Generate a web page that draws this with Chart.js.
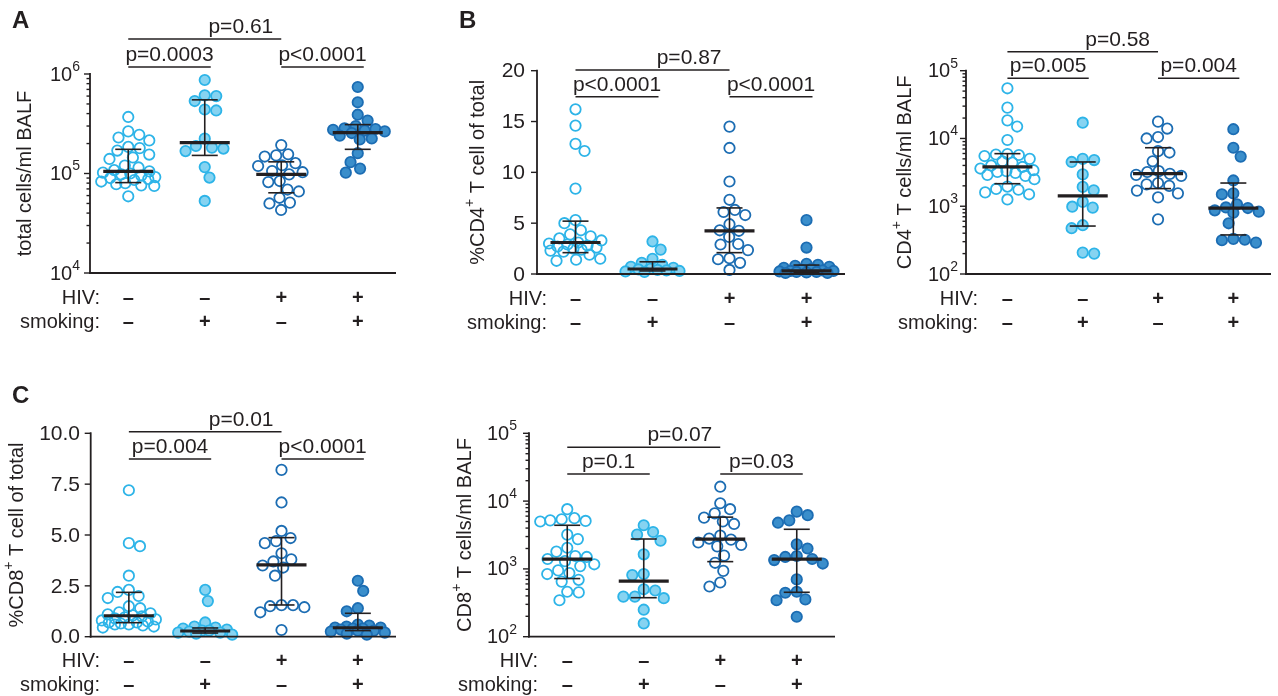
<!DOCTYPE html>
<html>
<head>
<meta charset="utf-8">
<script src="https://cdn.jsdelivr.net/npm/chart.js@4.4.1/dist/chart.umd.min.js"></script>
<style>
  html, body { margin: 0; padding: 0; background: #fff; }
  #wrap { position: relative; width: 1278px; height: 696px; overflow: hidden; }
  #wrap canvas { position: absolute; left: 0; top: 0; }
</style>
</head>
<body>
<div id="wrap"></div>
<script>
// groups: HIV-/smoking-, HIV-/smoking+, HIV+/smoking-, HIV+/smoking+
var hivSigns = ['\u2013', '\u2013', '+', '+'];
var smokingSigns = ['\u2013', '+', '\u2013', '+'];

// A: total cells/ml BALF
var totalCellsG1 = [3.7e5, 2.65e5, 2.45e5, 2.3e5, 2.15e5, 1.85e5, 1.8e5, 1.7e5, 1.55e5, 1.45e5, 1.4e5, 1.2e5, 1.15e5, 1.08e5, 1.05e5, 1.02e5, 1.0e5, 9.8e4, 9.5e4, 9.2e4, 9.0e4, 8.8e4, 8.6e4, 8.3e4, 8.0e4, 7.8e4, 7.6e4, 7.5e4, 5.9e4];
var totalCellsG2 = [8.7e5, 6.1e5, 6.0e5, 5.35e5, 4.4e5, 4.3e5, 2.24e5, 1.89e5, 1.82e5, 1.78e5, 1.68e5, 1.16e5, 9.1e4, 5.3e4];
var totalCellsG3 = [1.93e5, 1.56e5, 1.52e5, 1.48e5, 1.27e5, 1.21e5, 1.19e5, 1.06e5, 1.03e5, 9.8e4, 8.4e4, 8.2e4, 6.9e4, 6.6e4, 5.7e4, 5.1e4, 5.0e4, 4.3e4];
var totalCellsG4 = [7.4e5, 5.2e5, 3.9e5, 3.4e5, 3.0e5, 2.85e5, 2.8e5, 2.75e5, 2.7e5, 2.65e5, 2.55e5, 2.4e5, 2.25e5, 2.2e5, 1.6e5, 1.3e5, 1.12e5, 1.02e5];
var totalCellsMedian = [1.05e5, 2.04e5, 9.8e4, 2.57e5];
var totalCellsQ1 = [8.1e4, 1.52e5, 6.4e4, 1.75e5];
var totalCellsQ3 = [1.75e5, 5.5e5, 1.31e5, 3.1e5];
var totalCellsP = ['p=0.0003', 'p<0.0001', 'p=0.61'];

// B: %CD4+ T cell of total
var pctCd4G1 = [16.2, 14.6, 12.8, 12.1, 8.4, 5.3, 5.0, 4.3, 3.9, 3.7, 3.5, 3.3, 3.1, 3.0, 2.9, 2.8, 2.7, 2.6, 2.5, 2.4, 2.3, 2.2, 1.9, 1.5, 1.4, 1.3];
var pctCd4G2 = [3.2, 2.4, 1.5, 1.1, 0.9, 0.7, 0.6, 0.5, 0.45, 0.4, 0.35, 0.3, 0.25, 0.2];
var pctCd4G3 = [14.5, 12.4, 9.1, 7.3, 6.3, 6.1, 5.8, 4.9, 4.3, 4.25, 3.65, 2.95, 2.9, 2.35, 1.55, 1.45, 1.1, 0.4];
var pctCd4G4 = [5.3, 2.6, 1.0, 0.9, 0.8, 0.7, 0.6, 0.5, 0.4, 0.35, 0.3, 0.3, 0.25, 0.2, 0.2, 0.15, 0.1, 0.1];
var pctCd4Median = [3.1, 0.49, 4.25, 0.3];
var pctCd4Q1 = [2.1, 0.3, 2.1, 0.12];
var pctCd4Q3 = [5.2, 1.2, 6.5, 0.88];
var pctCd4Ticks = [0, 5, 10, 15, 20];
var pctCd4P = ['p<0.0001', 'p<0.0001', 'p=0.87'];

// B: CD4+ T cells/ml BALF
var cd4CountG1 = [5.5e4, 2.85e4, 1.85e4, 1.5e4, 9.5e3, 5.9e3, 5.8e3, 5.7e3, 5.5e3, 5.0e3, 4.6e3, 4.4e3, 4.0e3, 3.8e3, 3.6e3, 3.4e3, 3.3e3, 3.2e3, 3.1e3, 2.9e3, 2.8e3, 2.5e3, 1.95e3, 1.8e3, 1.75e3, 1.6e3, 1.5e3, 1.26e3];
var cd4CountG2 = [1.71e4, 5.0e3, 4.8e3, 4.5e3, 2.95e3, 1.93e3, 1.72e3, 1.16e3, 985, 955, 525, 474, 207, 200];
var cd4CountG3 = [1.77e4, 1.4e4, 1.05e4, 1.0e4, 6.5e3, 6.2e3, 4.6e3, 3.3e3, 3.2e3, 3.0e3, 2.9e3, 2.8e3, 2.2e3, 2.1e3, 2.0e3, 1.7e3, 1.55e3, 1.35e3, 640];
var cd4CountG4 = [1.37e4, 7.3e3, 5.4e3, 2.4e3, 1.55e3, 1.5e3, 1.07e3, 960, 940, 870, 830, 800, 560, 330, 320, 315, 290];
var cd4CountMedian = [3.8e3, 1.42e3, 3.02e3, 940];
var cd4CountQ1 = [2.15e3, 510, 1.82e3, 377];
var cd4CountQ3 = [5.97e3, 4.5e3, 7.3e3, 2.2e3];
var cd4CountP = ['p=0.005', 'p=0.004', 'p=0.58'];

// C: %CD8+ T cell of total
var pctCd8G1 = [7.2, 4.6, 4.45, 3.0, 2.3, 2.2, 2.0, 1.9, 1.5, 1.4, 1.2, 1.15, 1.1, 1.05, 1.0, 0.95, 0.9, 0.85, 0.8, 0.75, 0.7, 0.7, 0.65, 0.6, 0.6, 0.55, 0.5, 0.45];
var pctCd8G2 = [2.3, 1.75, 0.7, 0.5, 0.45, 0.4, 0.35, 0.3, 0.3, 0.25, 0.2, 0.2, 0.15, 0.1];
var pctCd8G3 = [8.2, 6.6, 5.2, 4.85, 4.7, 4.6, 4.1, 3.8, 3.7, 3.5, 3.4, 3.0, 1.55, 1.55, 1.5, 1.45, 1.2, 0.33];
var pctCd8G4 = [2.75, 2.25, 1.4, 1.25, 0.6, 0.55, 0.5, 0.45, 0.45, 0.4, 0.4, 0.35, 0.3, 0.3, 0.25, 0.2, 0.15, 0.1];
var pctCd8Median = [1.03, 0.28, 3.53, 0.44];
var pctCd8Q1 = [0.69, 0.18, 1.56, 0.3];
var pctCd8Q3 = [2.18, 0.43, 4.87, 1.15];
var pctCd8Ticks = [0, 2.5, 5, 7.5, 10];
var pctCd8P = ['p=0.004', 'p<0.0001', 'p=0.01'];

// C: CD8+ T cells/ml BALF
var cd8CountG1 = [7.6e3, 5.6e3, 5.4e3, 5.2e3, 5.1e3, 5.0e3, 3.2e3, 2.75e3, 2.05e3, 1.8e3, 1.55e3, 1.5e3, 1.4e3, 1.3e3, 1.17e3, 1.1e3, 950, 870, 840, 690, 650, 460, 450, 345];
var cd8CountG2 = [4.4e3, 3.5e3, 3.2e3, 2.6e3, 1.64e3, 840, 810, 500, 480, 390, 390, 370, 250, 157];
var cd8CountG3 = [1.63e4, 9.3e3, 7.6e3, 6.6e3, 5.7e3, 5.0e3, 4.6e3, 3.1e3, 2.8e3, 2.7e3, 2.45e3, 2.25e3, 2.15e3, 1.57e3, 1.23e3, 935, 630, 550];
var cd8CountG4 = [7.0e3, 6.2e3, 5.2e3, 4.8e3, 2.3e3, 2.0e3, 1.55e3, 1.5e3, 1.4e3, 1.35e3, 1.2e3, 700, 460, 445, 355, 345, 197];
var cd8CountMedian = [1.39e3, 660, 2.74e3, 1.39e3];
var cd8CountQ1 = [720, 376, 1.28e3, 452];
var cd8CountQ3 = [4.4e3, 2.76e3, 5.8e3, 3.84e3];
var cd8CountP = ['p=0.1', 'p=0.03', 'p=0.07'];

var FONT = '"Liberation Sans", Arial, Helvetica, sans-serif';
var INK = '#231f20';
var lightBlue = '#2db4e8';
var lightFill = '#86d3f1';
var darkBlue = '#1c6db3';
var darkFill = '#3a8ecb';
var borderColors = [lightBlue, lightBlue, darkBlue, darkBlue];
var fillColors = ['rgba(0,0,0,0)', lightFill, 'rgba(0,0,0,0)', darkFill];

var panels = [
  { letter: 'A', letterX: 12, letterY: 28, values: [totalCellsG1, totalCellsG2, totalCellsG3, totalCellsG4],
    median: totalCellsMedian, q1: totalCellsQ1, q3: totalCellsQ3, pvals: totalCellsP,
    log: true, min: 1e4, max: 1e6, xMin: 0.5, xMax: 4.5,
    title: [['total cells/ml BALF', 0]], titleX: 25,
    left: 90, right: 396, top: 74, bottom: 273, tickRight: 80, rowLabelX: 100, lowerY: -7, upperY: -35 },
  { letter: 'B', letterX: 459, letterY: 28, values: [pctCd4G1, pctCd4G2, pctCd4G3, pctCd4G4],
    median: pctCd4Median, q1: pctCd4Q1, q3: pctCd4Q3, pvals: pctCd4P,
    log: false, min: 0, max: 20, ticks: pctCd4Ticks, decimals: 0, xMin: 0.5, xMax: 4.5,
    title: [['%CD4', 0], ['+', 1], [' T cell of total', 0]], titleX: 478,
    left: 537, right: 845, top: 70.7, bottom: 274, tickRight: 525, rowLabelX: 547, lowerY: 26, upperY: -0.7 },
  { letter: '', values: [cd4CountG1, cd4CountG2, cd4CountG3, cd4CountG4],
    median: cd4CountMedian, q1: cd4CountQ1, q3: cd4CountQ3, pvals: cd4CountP,
    log: true, min: 1e2, max: 1e5, xMin: 0.45, xMax: 4.5,
    title: [['CD4', 0], ['+', 1], [' T cells/ml BALF', 0]], titleX: 905,
    left: 966, right: 1276, top: 70.7, bottom: 274, tickRight: 958, rowLabelX: 978, lowerY: 7.6, upperY: -19 },
  { letter: 'C', letterX: 12, letterY: 403, values: [pctCd8G1, pctCd8G2, pctCd8G3, pctCd8G4],
    median: pctCd8Median, q1: pctCd8Q1, q3: pctCd8Q3, pvals: pctCd8P,
    log: false, min: 0, max: 10, ticks: pctCd8Ticks, decimals: 1, xMin: 0.5, xMax: 4.5,
    title: [['%CD8', 0], ['+', 1], [' T cell of total', 0]], titleX: 17,
    left: 90.7, right: 396, top: 433.3, bottom: 636.7, tickRight: 80, rowLabelX: 100, lowerY: 25.7, upperY: -1.6 },
  { letter: '', values: [cd8CountG1, cd8CountG2, cd8CountG3, cd8CountG4],
    median: cd8CountMedian, q1: cd8CountQ1, q3: cd8CountQ3, pvals: cd8CountP,
    log: true, min: 1e2, max: 1e5, xMin: 0.5, xMax: 4.5,
    title: [['CD8', 0], ['+', 1], [' T cells/ml BALF', 0]], titleX: 465,
    left: 529, right: 835, top: 433.3, bottom: 636.7, tickRight: 517, rowLabelX: 538, lowerY: 40.7, upperY: 14 }
];

// text with superscript parts: [text, isSup]
function drawRich(ctx, parts, x, y, align, size) {
  var supSize = Math.round(size * 0.7);
  var total = 0;
  parts.forEach(function(p) {
    ctx.font = (p[1] ? supSize : size) + 'px ' + FONT;
    total += ctx.measureText(p[0]).width;
  });
  var cx = align === 'right' ? x - total : (align === 'center' ? x - total / 2 : x);
  ctx.textAlign = 'left';
  ctx.textBaseline = 'middle';
  parts.forEach(function(p) {
    ctx.font = (p[1] ? supSize : size) + 'px ' + FONT;
    ctx.fillText(p[0], cx, p[1] ? y - size * 0.4 : y);
    cx += ctx.measureText(p[0]).width;
  });
}

function line(ctx, x1, y1, x2, y2) {
  ctx.beginPath();
  ctx.moveTo(x1, y1);
  ctx.lineTo(x2, y2);
  ctx.stroke();
}

function drawPanel(chart, p) {
  var ctx = chart.ctx;
  var xs = chart.scales.x;
  var ys = chart.scales.y;
  var area = chart.chartArea;
  var centers = [1, 2, 3, 4].map(function(g) { return xs.getPixelForValue(g); });
  ctx.save();
  ctx.strokeStyle = INK;
  ctx.fillStyle = INK;

  // median with interquartile range
  for (var g = 0; g < 4; g++) {
    var c = centers[g];
    var yq1 = ys.getPixelForValue(p.q1[g]);
    var yq3 = ys.getPixelForValue(p.q3[g]);
    ctx.lineWidth = 1.6;
    line(ctx, c, yq1, c, yq3);
    line(ctx, c - 13, yq1, c + 13, yq1);
    line(ctx, c - 13, yq3, c + 13, yq3);
    ctx.lineWidth = 3.2;
    var ym = ys.getPixelForValue(p.median[g]);
    line(ctx, c - 25, ym, c + 25, ym);
  }

  // axes
  ctx.lineWidth = 1.8;
  line(ctx, area.left, area.top - 1, area.left, area.bottom + 0.9);
  line(ctx, area.left - 0.9, area.bottom, area.right, area.bottom);
  ctx.lineWidth = 1.4;
  if (p.log) {
    var e0 = Math.round(Math.log10(p.min));
    var e1 = Math.round(Math.log10(p.max));
    for (var e = e0; e <= e1; e++) {
      var yv = ys.getPixelForValue(Math.pow(10, e));
      line(ctx, area.left - 6, yv, area.left, yv);
      drawRich(ctx, [['10', 0], [String(e), 1]], p.tickRight, yv + 1, 'right', 20);
      if (e < e1) {
        for (var k = 2; k <= 9; k++) {
          var ym2 = ys.getPixelForValue(k * Math.pow(10, e));
          line(ctx, area.left - 3.5, ym2, area.left, ym2);
        }
      }
    }
  } else {
    p.ticks.forEach(function(t) {
      var yt = ys.getPixelForValue(t);
      line(ctx, area.left - 6, yt, area.left, yt);
      drawRich(ctx, [[t.toFixed(p.decimals), 0]], p.tickRight, yt + 1, 'right', 21);
    });
  }

  // y title
  ctx.save();
  ctx.translate(p.titleX, (area.top + area.bottom) / 2);
  ctx.rotate(-Math.PI / 2);
  drawRich(ctx, p.title, 0, 0, 'center', 20);
  ctx.restore();

  // group rows under the axis
  drawRich(ctx, [['HIV:', 0]], p.rowLabelX, area.bottom + 25, 'right', 20);
  drawRich(ctx, [['smoking:', 0]], p.rowLabelX, area.bottom + 49, 'right', 20);
  ctx.font = 'bold 20px ' + FONT;
  ctx.textAlign = 'center';
  ctx.textBaseline = 'middle';
  for (var h = 0; h < 4; h++) {
    ctx.fillText(hivSigns[h], centers[h], area.bottom + 25);
    ctx.fillText(smokingSigns[h], centers[h], area.bottom + 49);
  }

  // significance brackets: 1 vs 2, 3 vs 4, 1 vs 3
  var pairs = [[0, 1, true], [2, 3, true], [0, 2, false]];
  ctx.lineWidth = 1.5;
  pairs.forEach(function(pr, i) {
    var x1 = centers[pr[0]];
    var x2 = centers[pr[1]] + (pr[2] ? 6 : 0);
    var yb = area.top + (pr[2] ? p.lowerY : p.upperY);
    line(ctx, x1, yb, x2, yb);
    ctx.font = '21px ' + FONT;
    ctx.textBaseline = 'alphabetic';
    if (pr[2]) {
      ctx.textAlign = 'center';
      ctx.fillText(p.pvals[i], (x1 + x2) / 2, yb - 6);
    } else {
      ctx.textAlign = 'right';
      ctx.fillText(p.pvals[i], x2 - 8, yb - 6);
    }
  });

  if (p.letter) {
    ctx.font = 'bold 24px ' + FONT;
    ctx.textAlign = 'left';
    ctx.textBaseline = 'alphabetic';
    ctx.fillText(p.letter, p.letterX, p.letterY);
  }
  ctx.restore();
}

// spread the dots of each group sideways so they do not pile up
function swarm(chart, p) {
  var xs = chart.scales.x;
  var ys = chart.scales.y;
  var minDist = 11.5;
  var maxSpread = 27;
  chart.data.datasets.forEach(function(ds, g) {
    var cPx = xs.getPixelForValue(g + 1);
    var pts = p.values[g].map(function(v) { return { v: v, py: ys.getPixelForValue(v), dx: 0 }; });
    var order = pts.slice().sort(function(a, b) { return a.py - b.py; });
    var placed = [];
    var side = 1;
    order.forEach(function(pt) {
      var near = placed.filter(function(q) { return Math.abs(q.py - pt.py) < minDist; });
      var clearance = function(x) {
        var m = Infinity;
        near.forEach(function(q) {
          var d = Math.hypot(q.dx - x, q.py - pt.py);
          if (d < m) m = d;
        });
        return m;
      };
      var cands = [0];
      near.forEach(function(q) {
        var w = Math.sqrt(minDist * minDist - (q.py - pt.py) * (q.py - pt.py));
        cands.push(q.dx + w + 0.01, q.dx - w - 0.01);
      });
      var free = cands.filter(function(x) { return Math.abs(x) <= maxSpread && clearance(x) >= minDist - 0.02; });
      var best = 0;
      if (free.length) {
        free.sort(function(a, b) {
          var d = Math.abs(a) - Math.abs(b);
          if (Math.abs(d) > 0.5) return d;
          return side * b - side * a;
        });
        best = free[0];
      } else {
        var bc = -1;
        for (var x = -maxSpread; x <= maxSpread; x += 1) {
          var cl = clearance(x);
          if (cl > bc + 0.01) { bc = cl; best = x; }
        }
      }
      if (Math.abs(best) > 0.5) side = best > 0 ? -1 : 1;
      pt.dx = best;
      placed.push(pt);
    });
    ds.data = pts.map(function(pt) { return { x: xs.getValueForPixel(cPx + pt.dx), y: pt.v }; });
  });
  chart.update('none');
}

var wrap = document.getElementById('wrap');

panels.forEach(function(p) {
  var canvas = document.createElement('canvas');
  canvas.width = 1278;
  canvas.height = 696;
  wrap.appendChild(canvas);

  var datasets = [];
  for (var g = 0; g < 4; g++) {
    datasets.push({
      data: p.values[g].map(function(v) { return { x: g + 1, y: v }; }),
      pointRadius: 5.2,
      borderWidth: 1.8,
      borderColor: borderColors[g],
      backgroundColor: fillColors[g],
      clip: false
    });
  }

  var chart = new Chart(canvas.getContext('2d'), {
    type: 'scatter',
    data: { datasets: datasets },
    options: {
      responsive: false,
      animation: false,
      events: [],
      layout: { padding: { left: p.left, top: p.top, right: 1278 - p.right, bottom: 696 - p.bottom } },
      plugins: { legend: { display: false }, tooltip: { enabled: false } },
      scales: {
        x: { type: 'linear', min: p.xMin, max: p.xMax, display: false },
        y: { type: p.log ? 'logarithmic' : 'linear', min: p.min, max: p.max, display: false }
      }
    },
    plugins: [{ id: 'panelDecor', afterDatasetsDraw: function(c) { drawPanel(c, p); } }]
  });
  swarm(chart, p);
});
</script>
</body>
</html>
